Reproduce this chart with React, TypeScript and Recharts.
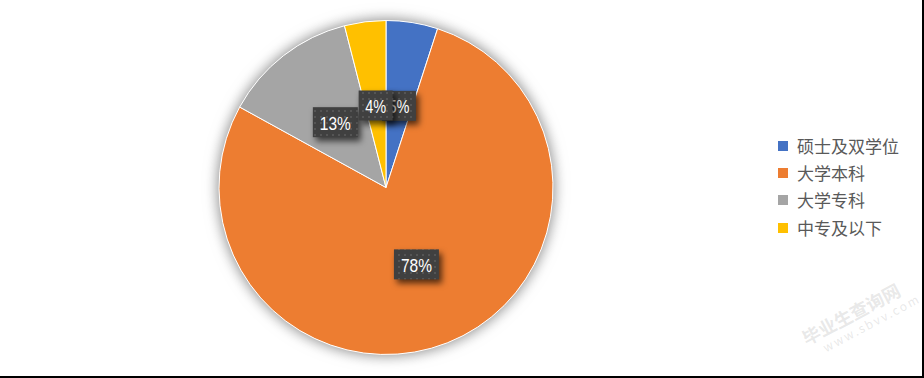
import { Legend, Pie, PieChart } from "recharts";

const categories = ["硕士及双学位", "大学本科", "大学专科", "中专及以下"];
const shares = [5, 78, 13, 4];
const colors = ["#4472C4", "#ED7D31", "#A5A5A5", "#FFC000"];

const data = categories.map((name, i) => ({ name, value: shares[i], fill: colors[i] }));
const backdrop = [{ name: "bg", value: 1, fill: "#ffffff" }];

const RAD = Math.PI / 180;

function BoxLabel(props: any) {
  const { cx, cy, midAngle, outerRadius, value, index } = props;
  const r = outerRadius * 0.495;
  const x = cx + r * Math.cos(-midAngle * RAD);
  const y = cy + r * Math.sin(-midAngle * RAD);
  const txt = `${value}%`;
  const w = txt.length === 2 ? 34 : 45;
  const h = 30;
  return (
    <g>
      {index === 0 && (
        <defs>
          <pattern id="lblDots" width="6" height="6" patternUnits="userSpaceOnUse">
            <rect width="6" height="6" fill="#404040" />
            <rect x="2" y="2" width="2" height="2" fill="#555555" />
          </pattern>
        </defs>
      )}
      <rect
        x={x - w / 2}
        y={y - h / 2}
        width={w}
        height={h}
        fill="url(#lblDots)"
        style={{ filter: "drop-shadow(3px 4px 3px rgba(0,0,0,0.65))" }}
      />
      <text
        x={x}
        y={y + 1}
        textAnchor="middle"
        dominantBaseline="central"
        fill="#ffffff"
        fontSize={18.5}
        textLength={txt.length === 2 ? 21 : 31}
        lengthAdjust="spacingAndGlyphs"
        fontFamily="'Liberation Sans', Arial, sans-serif"
      >
        {txt}
      </text>
    </g>
  );
}

function LegendBox() {
  return (
    <div style={{ fontFamily: "'Noto Sans CJK SC', sans-serif", fontSize: 17, color: "#595959" }}>
      {data.map((d) => (
        <div key={d.name} style={{ display: "flex", alignItems: "center", height: 27.3 }}>
          <span style={{ width: 10, height: 10, background: d.fill, marginRight: 9, display: "inline-block" }} />
          <span style={{ lineHeight: "20px" }}>{d.name}</span>
        </div>
      ))}
    </div>
  );
}

export default function App() {
  return (
    <div
      style={{
        position: "relative",
        width: 922,
        height: 376,
        borderRight: "2px solid #000",
        borderBottom: "2px solid #000",
        background: "#fff",
      }}
    >
      <style>{`body{margin:0} .pieShadow{filter:drop-shadow(0 0 7px rgba(0,0,0,0.28));}`}</style>
      <PieChart width={922} height={376} margin={{ top: 0, right: 0, bottom: 0, left: 0 }}>
        <Pie
          className="pieShadow"
          data={backdrop}
          dataKey="value"
          cx={386}
          cy={187.5}
          outerRadius={167}
          startAngle={90}
          endAngle={-270}
          stroke="none"
          isAnimationActive={false}
        />
        <Pie
          data={data}
          dataKey="value"
          nameKey="name"
          cx={386}
          cy={187.5}
          outerRadius={167}
          startAngle={90}
          endAngle={-270}
          stroke="#ffffff"
          strokeWidth={1}
          label={BoxLabel}
          labelLine={false}
          isAnimationActive={false}
        />
        <Legend
          layout="vertical"
          content={() => <LegendBox />}
          wrapperStyle={{ position: "absolute", left: 778, top: 132, width: 140 }}
        />
      </PieChart>
      <div
        style={{
          position: "absolute",
          left: 800,
          top: 300,
          transform: "rotate(-28deg)",
          color: "rgba(180,180,180,0.3)",
          fontFamily: "'Noto Sans CJK SC', sans-serif",
          lineHeight: "18px",
          pointerEvents: "none",
        }}
      >
        <div style={{ fontSize: 18, fontWeight: 700 }}>毕业生查询网</div>
        <div style={{ fontSize: 12, letterSpacing: 2, marginLeft: 14 }}>www.sbvv.com</div>
      </div>
    </div>
  );
}
